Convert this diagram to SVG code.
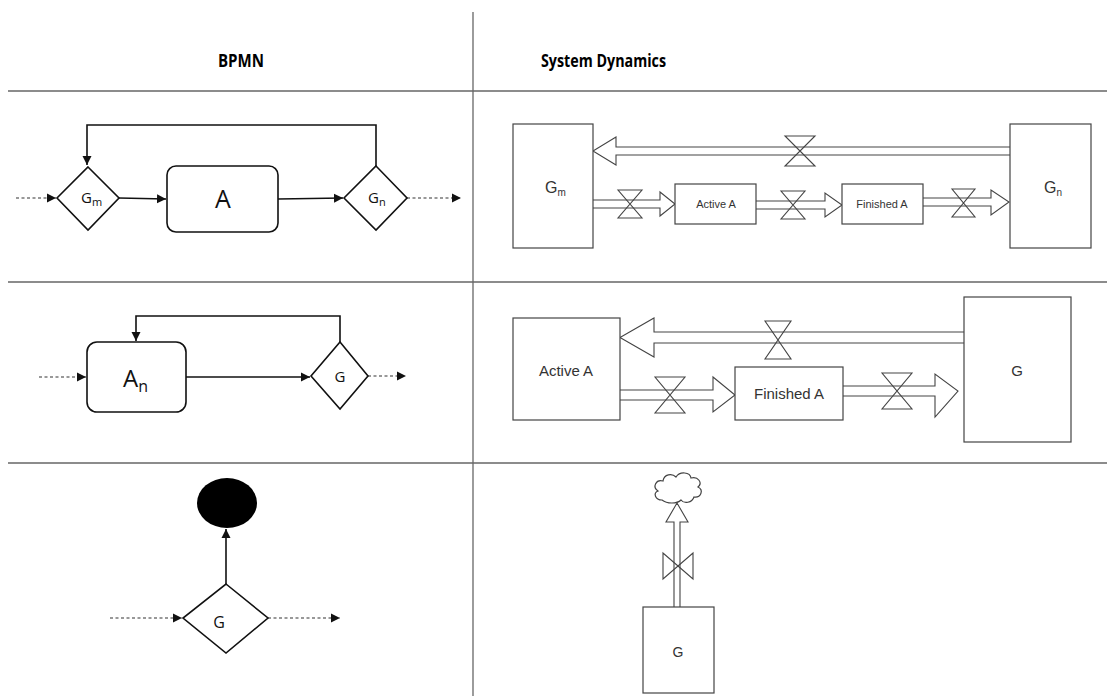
<svg xmlns="http://www.w3.org/2000/svg" width="1107" height="696" viewBox="0 0 1107 696">
<style>
.grid{stroke:#666;stroke-width:1.3;fill:none}
.hdr{font-family:"Open Sans",Lato,sans-serif;font-weight:bold;font-size:18px;fill:#000}
.bp{fill:#fff;stroke:#111;stroke-width:1.6}
.bpl{stroke:#111;stroke-width:1.6;fill:none}
.dash{stroke:#333;stroke-width:1.1;fill:none;stroke-dasharray:3 2.5}
.bpt{font-family:"Open Sans",sans-serif;fill:#111}
.sd{fill:#fff;stroke:#444;stroke-width:1.2}
.sdf{fill:#fff;stroke:#444;stroke-width:1.1}
.valve{fill:none;stroke:#444;stroke-width:1.1}
.sdt{font-family:"Liberation Sans",Arial,sans-serif;fill:#333}
</style>
<defs>
<marker id="ah" markerWidth="10" markerHeight="10" refX="9" refY="5" orient="auto" markerUnits="userSpaceOnUse">
<path d="M0,0.5 L9,5 L0,9.5 Z" fill="#111"/>
</marker>
</defs>
<rect width="1107" height="696" fill="#fff"/>
<g id="grid">
<line class="grid" x1="473" y1="12" x2="473" y2="696"/>
<line class="grid" x1="8" y1="91" x2="1107" y2="91"/>
<line class="grid" x1="8" y1="282" x2="1107" y2="282"/>
<line class="grid" x1="8" y1="463" x2="1107" y2="463"/>
<text class="hdr" x="218" y="67" textLength="46" lengthAdjust="spacingAndGlyphs">BPMN</text>
<text class="hdr" x="541" y="67" textLength="125" lengthAdjust="spacingAndGlyphs">System Dynamics</text>
</g>
<g id="connectors">
<path class="bpl" d="M376,166 L376,125 L87,125 L87,165" marker-end="url(#ah)"/>
<path class="dash" d="M16,198 L56,198" marker-end="url(#ah)"/>
<path class="bpl" d="M119,198 L166,199" marker-end="url(#ah)"/>
<path class="bpl" d="M278,199 L343,198" marker-end="url(#ah)"/>
<path class="dash" d="M407,198 L461,198" marker-end="url(#ah)"/>
<path class="bpl" d="M340,342 L340,316 L136,316 L136,341" marker-end="url(#ah)"/>
<path class="dash" d="M39,377 L86,377" marker-end="url(#ah)"/>
<path class="bpl" d="M186,377 L310,377" marker-end="url(#ah)"/>
<path class="dash" d="M368,376 L406,376" marker-end="url(#ah)"/>
<path class="bpl" d="M226,584 L226,529" marker-end="url(#ah)"/>
<path class="dash" d="M110,618 L182,618" marker-end="url(#ah)"/>
<path class="dash" d="M268,618 L340,618" marker-end="url(#ah)"/>
<path class="sdf" d="M1010,147 L616,147 L616,137 L593,151 L616,165 L616,155 L1010,155"/>
<path class="valve" d="M785,136 L815,136 L785,166 L815,166 Z"/>
<path class="sdf" d="M593,200 L660,200 L660,192 L675,204 L660,216 L660,208 L593,208"/>
<path class="valve" d="M618,190 L642,190 L618,218 L642,218 Z"/>
<path class="sdf" d="M756,201 L825,201 L825,193 L842,205 L825,217 L825,209 L756,209"/>
<path class="valve" d="M781,191 L805,191 L781,219 L805,219 Z"/>
<path class="sdf" d="M923,198 L991,198 L991,190 L1009,202 L991,215 L991,206 L923,206"/>
<path class="valve" d="M952,189 L975,189 L952,217 L975,217 Z"/>
<path class="sdf" d="M964,332 L654,332 L654,318 L620,337.5 L654,357 L654,343 L964,343"/>
<path class="valve" d="M765,321 L791,321 L765,359 L791,359 Z"/>
<path class="sdf" d="M620,390 L713,390 L713,377 L735,395 L713,412 L713,400 L620,400"/>
<path class="valve" d="M655,377 L685,377 L655,413 L685,413 Z"/>
<path class="sdf" d="M843,386 L935,386 L935,374 L958,391 L935,417 L935,396 L843,396"/>
<path class="valve" d="M882,373 L912,373 L882,409 L912,409 Z"/>
<path class="sdf" d="M674,607 L674,522 L666,522 L677,503 L688,522 L680,522 L680,607"/>
<path class="valve" d="M663,553 L663,579 L693,553 L693,579 Z"/>
</g>
<g id="bp-gm">
<path class="bp" d="M88,167 L119,198 L88,230 L57,198 Z"/>
<text class="bpt" x="81" y="203" font-size="15">G<tspan font-size="11" dy="3">m</tspan></text>
</g>
<g id="bp-a">
<rect class="bp" x="167" y="166" width="111" height="66" rx="9"/>
<text class="bpt" x="223" y="208" font-size="25" text-anchor="middle">A</text>
</g>
<g id="bp-gn">
<path class="bp" d="M376,166 L407,198 L376,230 L344,198 Z"/>
<text class="bpt" x="368" y="203" font-size="15">G<tspan font-size="11" dy="3">n</tspan></text>
</g>
<g id="bp-an">
<rect class="bp" x="87" y="342" width="99" height="70" rx="10"/>
<text class="bpt" x="123" y="387" font-size="24">A<tspan font-size="16" dy="5">n</tspan></text>
</g>
<g id="bp-g2">
<path class="bp" d="M340,342 L368,376 L340,409 L311,376 Z"/>
<text class="bpt" x="340" y="382" font-size="15" text-anchor="middle">G</text>
</g>
<g id="bp-end">
<ellipse cx="227" cy="503" rx="30" ry="25" fill="#000"/>
</g>
<g id="bp-g3">
<path class="bp" d="M226,584 L268,618 L226,653 L183,618 Z"/>
<text class="bpt" x="219" y="628" font-size="16" text-anchor="middle">G</text>
</g>
<g id="sd-gm">
<rect class="sd" x="513" y="124" width="80" height="124"/>
<text class="sdt" x="545" y="193" font-size="16">G<tspan font-size="10" dy="3">m</tspan></text>
</g>
<g id="sd-active1">
<rect class="sd" x="675" y="184" width="81" height="40"/>
<text class="sdt" x="716" y="208" font-size="11" text-anchor="middle">Active A</text>
</g>
<g id="sd-finished1">
<rect class="sd" x="842" y="184" width="81" height="40"/>
<text class="sdt" x="882" y="208" font-size="11" text-anchor="middle">Finished A</text>
</g>
<g id="sd-gn">
<rect class="sd" x="1010" y="124" width="81" height="124"/>
<text class="sdt" x="1044" y="193" font-size="16">G<tspan font-size="10" dy="3">n</tspan></text>
</g>
<g id="sd-active2">
<rect class="sd" x="513" y="318" width="107" height="102"/>
<text class="sdt" x="566" y="376" font-size="15" text-anchor="middle">Active A</text>
</g>
<g id="sd-finished2">
<rect class="sd" x="735" y="367" width="108" height="53"/>
<text class="sdt" x="789" y="399" font-size="15" text-anchor="middle">Finished A</text>
</g>
<g id="sd-g2">
<rect class="sd" x="964" y="297" width="107" height="145"/>
<text class="sdt" x="1017" y="376" font-size="15" text-anchor="middle">G</text>
</g>
<g id="sd-cloud">
<path class="sd" d="M662,500 C655,500 653,493 658,491 C652,487 656,479 663,481 C664,474 672,473 676,477 C680,471 690,472 691,478 C698,476 703,483 698,487 C704,490 701,498 694,497 C692,503 684,504 681,500 C677,504 667,504 662,500 Z"/>
</g>
<g id="sd-g3">
<rect class="sd" x="643" y="607" width="71" height="86"/>
<text class="sdt" x="678" y="657" font-size="14" text-anchor="middle">G</text>
</g>
</svg>
